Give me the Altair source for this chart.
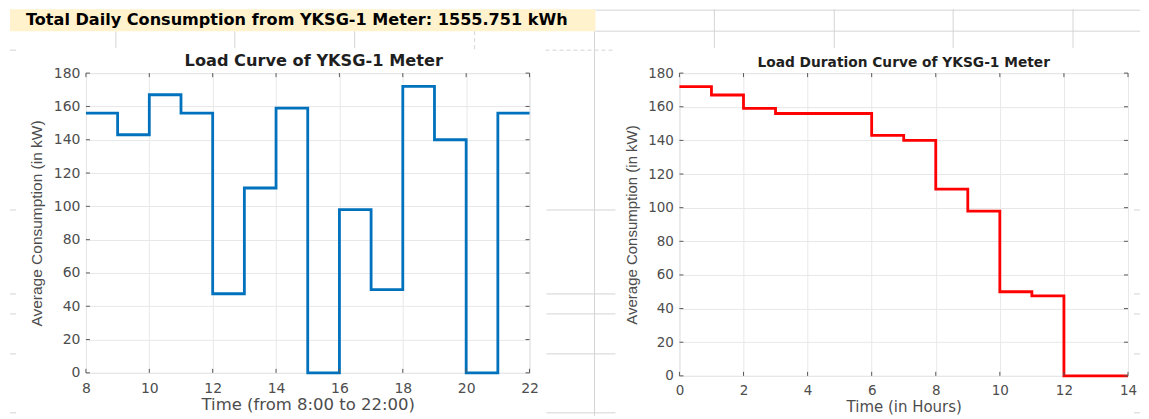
import altair as alt
import pandas as pd

# ---- data ----
hours = list(range(8, 22))                      # start hour of each one-hour interval
load_kw = [156, 143, 167, 156, 47.5, 111, 159, 0, 98, 50, 172, 140, 0, 156]
left_x_ticks = [8, 10, 12, 14, 16, 18, 20, 22]
right_x_ticks = [0, 2, 4, 6, 8, 10, 12, 14]
y_ticks = [0, 20, 40, 60, 80, 100, 120, 140, 160, 180]
banner_text = "Total Daily Consumption from YKSG-1 Meter: 1555.751 kWh"
left_title = "Load Curve of YKSG-1 Meter"
right_title = "Load Duration Curve of YKSG-1 Meter"
left_xlabel = "Time (from 8:00 to 22:00)"
right_xlabel = "Time (in Hours)"
ylabel = "Average Consumption (in kW)"

# ---- tables built from the arrays ----
left_df = pd.DataFrame({"t": hours + [hours[-1] + 1], "kw": load_kw + [load_kw[-1]]})
sorted_kw = sorted(load_kw, reverse=True)
right_df = pd.DataFrame({"t": list(range(len(sorted_kw) + 1)), "kw": sorted_kw + [sorted_kw[-1]]})

SANS = "DejaVu Sans"
NARROW = "Liberation Sans"
TXT = "#4d4d4d"
BOX = "#8c8c8c"
SHEET = "#d4d4d4"

one = pd.DataFrame({"label": [banner_text]})


def axis(title, values, label_size, title_size, title_pad, label_pad, title_font):
    return alt.Axis(
        values=values, title=title, grid=True, gridColor="#e8e8e8", domain=False,
        ticks=False, labelColor=TXT, titleColor=TXT, labelFont=SANS, titleFont=title_font,
        labelFontSize=label_size, titleFontSize=title_size, titleFontWeight="normal",
        titlePadding=title_pad, labelPadding=label_pad, labelFlush=False,
    )


def rule(x, x2, y, y2, dash=None):
    kw = dict(color=SHEET, strokeWidth=1)
    if dash:
        kw["strokeDash"] = dash
    return alt.Chart(one).mark_rule(**kw).encode(
        x=alt.value(x), x2=alt.value(x2), y=alt.value(y), y2=alt.value(y2)
    )


def panel(df, xdom, xticks, xaxis, yaxis, color, w, h, title_text, title_size, title_x, title_dy, extra_under):
    xs = alt.Scale(domain=xdom, nice=False)
    ys = alt.Scale(domain=[0, 180], nice=False)
    line = alt.Chart(df).mark_line(interpolate="step-after", color=color, strokeWidth=2.8).encode(
        x=alt.X("t:Q", scale=xs, axis=xaxis),
        y=alt.Y("kw:Q", scale=ys, axis=yaxis),
    )
    xt = pd.DataFrame({"t": xticks})
    yt = pd.DataFrame({"kw": y_ticks})
    tick_style = dict(color="#595959", strokeWidth=1)
    bottom = alt.Chart(xt).mark_rule(**tick_style).encode(
        x=alt.X("t:Q", scale=xs, axis=xaxis), y=alt.value(h), y2=alt.value(h - 4))
    top = alt.Chart(xt).mark_rule(**tick_style).encode(
        x=alt.X("t:Q", scale=xs, axis=xaxis), y=alt.value(0), y2=alt.value(4))
    left = alt.Chart(yt).mark_rule(**tick_style).encode(
        y=alt.Y("kw:Q", scale=ys, axis=yaxis), x=alt.value(0), x2=alt.value(4))
    right = alt.Chart(yt).mark_rule(**tick_style).encode(
        y=alt.Y("kw:Q", scale=ys, axis=yaxis), x=alt.value(w), x2=alt.value(w - 4))
    ttl = alt.Chart(pd.DataFrame({"label": [title_text]})).mark_text(
        align="center", baseline="alphabetic", font=SANS, fontSize=title_size,
        fontWeight="bold", color="#1f1f1f"
    ).encode(x=alt.value(title_x), y=alt.value(title_dy), text="label:N")
    return alt.layer(*extra_under, ttl, line, bottom, top, left, right).properties(width=w, height=h)


# spreadsheet background lines and the yellow banner (relative to the left plot origin)
banner_rect = alt.Chart(one).mark_rect(color="#FFF2CC").encode(
    x=alt.value(-76), x2=alt.value(510), y=alt.value(-64), y2=alt.value(-42)
)
banner_label = alt.Chart(one).mark_text(
    align="left", baseline="alphabetic", font=SANS, fontSize=16.1, fontWeight="bold", color="#000000"
).encode(x=alt.value(-60), y=alt.value(-48), text="label:N")

sheet_lines = [
    rule(30, 30, -42, -25), rule(149, 149, -42, -25), rule(269, 269, -42, -25),
    rule(389, 389, -42, -24, dash=[4, 3]),
    rule(509, 509, -64, 343),
    rule(629, 629, -64, -25), rule(749, 749, -64, -25), rule(868, 868, -64, -25), rule(988, 988, -64, -25),
    rule(510, 1055, -63, -63), rule(510, 1055, -42, -42),
    rule(460, 530, -23, -23, dash=[4, 3]),
    rule(-76, -70, -23, -23),
]
for yy in [137, 221, 241, 281, 340]:
    sheet_lines.append(rule(461, 530, yy, yy))
    sheet_lines.append(rule(-76, -70, yy, yy))
    sheet_lines.append(rule(1049, 1055, yy, yy))

left_chart = panel(
    left_df, [8, 22], left_x_ticks,
    axis(left_xlabel, left_x_ticks, 14, 16.5, 1, 9, SANS),
    axis(ylabel, y_ticks, 14, 15.5, 9, 6, NARROW),
    "#0072BD", 444, 300, left_title, 16.2, 228, -7,
    sheet_lines + [banner_rect, banner_label],
)

right_chart = panel(
    right_df, [0, 14], right_x_ticks,
    axis(right_xlabel, right_x_ticks, 13.5, 15, 2, 8, SANS),
    axis(ylabel, y_ticks, 13.5, 15, 8, 6, NARROW),
    "#FF0000", 449, 303, right_title, 13.8, 224.5, -6,
    [],
)

chart = alt.hconcat(left_chart, right_chart, spacing=150, bounds="flush").properties(
    padding={"left": 1, "top": 0, "right": 0, "bottom": 0}
).configure_view(stroke=BOX, strokeWidth=1).configure(background="white")

chart.save("out.html", embed_options={"renderer": "svg", "actions": False})
